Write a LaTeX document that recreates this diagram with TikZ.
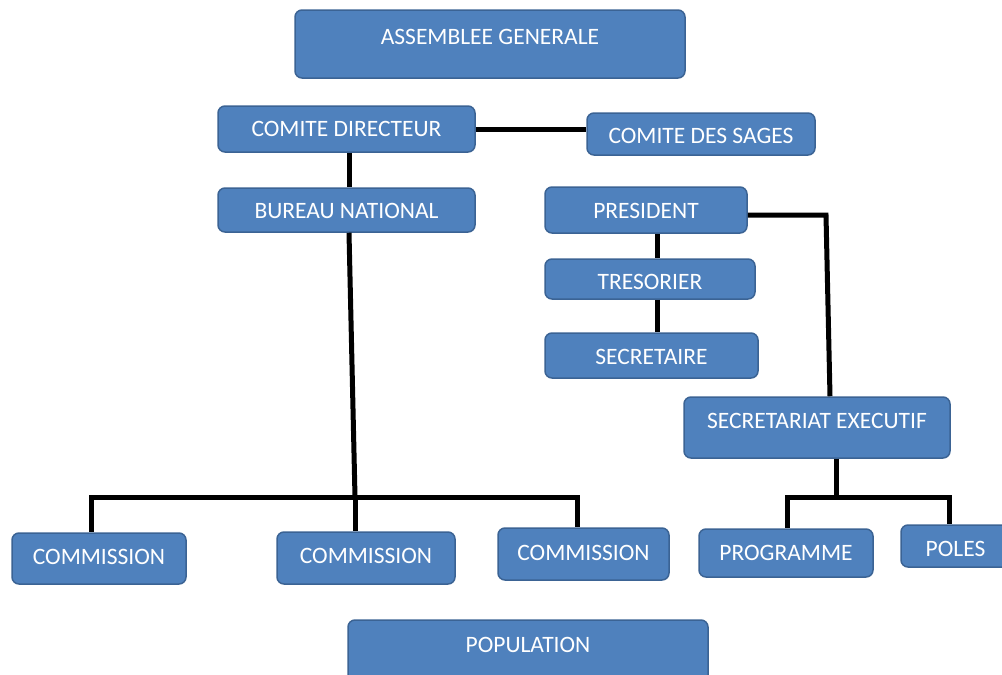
\documentclass[tikz,border=0pt]{standalone}
\usepackage{fontspec}
\setmainfont{Carlito}
\definecolor{boxfill}{HTML}{4F81BD}
\definecolor{boxline}{HTML}{3B6394}
\tikzset{
  orgbox/.style={draw=boxline, line width=1.5pt, fill=boxfill, rounded corners=7pt, inner sep=0pt},
  orgtext/.style={text=white, font=\fontsize{23.5}{23.5}\selectfont, inner sep=0pt},
  link/.style={line width=5pt, black}
}
\newcommand{\obox}[7]{%
  \node[orgbox, minimum width={#4-#2}, minimum height={#5-#3}] (#1) at ({(#2+#4)/2},{(#3+#5)/2}) {};
  \node[orgtext] (#1-t) at ({(#2+#4)/2},#7) {#6};
}
\begin{document}
\begin{tikzpicture}[x=1pt,y=-1pt]
\useasboundingbox (0,0) rectangle (1002,675);
\coordinate (j1) at (355,497);
\coordinate (jl) at (91,497);
\coordinate (jr) at (577,497);
\coordinate (k1) at (826,215);
\coordinate (j2) at (836,497);
\coordinate (j2l) at (787,497);
\coordinate (j2r) at (949,497);
\obox{ag}{295}{10}{685}{78}{ASSEMBLEE GENERALE}{37}
\obox{cd}{218}{106}{475}{152}{COMITE DIRECTEUR}{129}
\obox{cds}{587}{113}{815}{155}{COMITE DES SAGES}{136}
\obox{bn}{218}{188}{475}{232}{BUREAU NATIONAL}{211}
\obox{pr}{545}{187}{747}{233}{PRESIDENT}{211}
\obox{tr}{545}{259}{755}{299}{TRESORIER}{282}
\obox{se}{545}{333}{758}{378}{SECRETAIRE}{357}
\obox{sx}{684}{397}{950}{458}{SECRETARIAT EXECUTIF}{421}
\obox{c1}{12}{533}{186}{584}{COMMISSION}{557}
\obox{c2}{277}{532}{455}{584}{COMMISSION}{556}
\obox{c3}{498}{528}{669}{580}{COMMISSION}{553}
\obox{pg}{699}{529}{873}{577}{PROGRAMME}{553}
\obox{po}{901}{525}{1010}{567}{POLES}{549}
\obox{pop}{348}{620}{708}{683}{POPULATION}{645}
\draw[link] (cd.east) -- (cd.east -| cds.west);
\draw[link] (cd.south -| 349,0) -- (bn.north -| 349,0);
\draw[link] (bn.south -| 349,0) -- (j1);
\draw[link, line cap=rect] (jl) -- (jr);
\draw[link] (jl) -- (jl |- c1.north);
\draw[link] (j1) -- (j1 |- c2.north);
\draw[link] (jr) -- (jr |- c3.north);
\draw[link] (pr.south -| 657,0) -- (tr.north -| 657,0);
\draw[link] (tr.south -| 657,0) -- (se.north -| 657,0);
\draw[link] (pr.east |- 0,215) -- (k1) -- (sx.north -| 830,0);
\draw[link] (sx.south -| j2) -- (j2);
\draw[link, line cap=rect] (j2l) -- (j2r);
\draw[link] (j2l) -- (j2l |- pg.north);
\draw[link] (j2r) -- (j2r |- po.north);
\end{tikzpicture}
\end{document}
